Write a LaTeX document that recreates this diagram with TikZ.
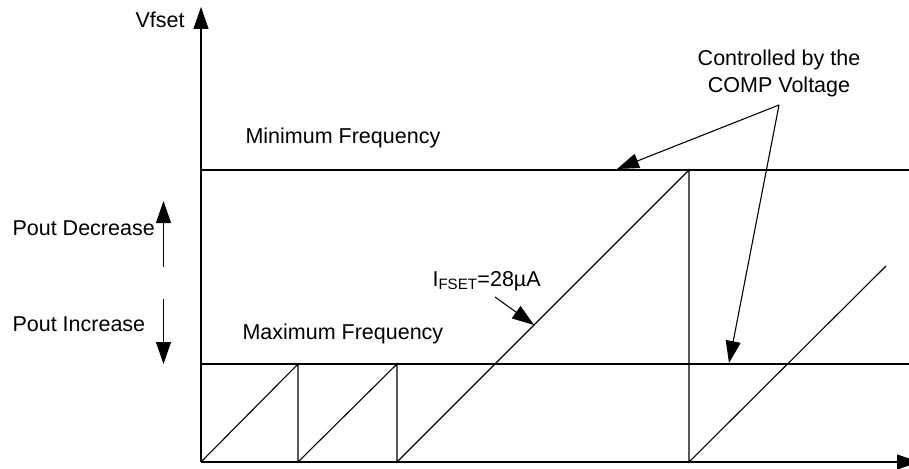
\documentclass[tikz,border=0pt]{standalone}
\usepackage{fontspec}
\setmainfont{Liberation Sans}
\usetikzlibrary{arrows.meta}

\tikzset{
  tip/.style={-{Triangle[length=22pt,width=15pt]}},
  lbl/.style={font=\fontsize{21.5}{27}\selectfont, inner sep=0pt, anchor=base west},
}

\begin{document}
\begin{tikzpicture}[x=1pt,y=-1pt,line width=1.1pt]
    \useasboundingbox (0,0) rectangle (909,468);
    \clip (0,0) rectangle (909,468);

    % axes
    \coordinate (origin) at (201,462);
    \draw[tip] (origin) -- (201,7);
    \draw[tip] (origin) -- (919,462);
    \node[lbl] (vfset) at (135,28) {Vfset};

    % frequency limits
    \draw (201,170) -- (909,170);
    \draw (201,364) -- (909,364);
    \node[lbl] (minf) at (245,143) {Minimum Frequency};
    \node[lbl] (maxf) at (242,339) {Maximum Frequency};

    % sawtooth
    \draw (201,462) -- (298,364) -- (298,462) -- (397,364) -- (397,462)
          -- (689,170) -- (689,462) -- (886,266);

    % Pout direction
    \node[lbl] (pdec) at (12,235) {Pout Decrease};
    \node[lbl] (pinc) at (12,331) {Pout Increase};
    \draw[tip] (163.5,267) -- (163.5,201);
    \draw[tip] (163.5,299) -- (163.5,364);

    % current label
    \node[lbl] (ifset) at (432,286) {I\textsubscript{FSET}=28µA};
    \draw[tip] (495,297) -- (534,325);

    % COMP voltage
    \node[font=\fontsize{21.5}{27}\selectfont, inner sep=0pt, align=center, anchor=north]
        (comp) at (779,49) {Controlled by the\\COMP Voltage};
    \coordinate (c) at (779,105);
    \draw[tip] (c) -- (617,169);
    \draw[tip] (c) -- (729,363);
\end{tikzpicture}
\end{document}
